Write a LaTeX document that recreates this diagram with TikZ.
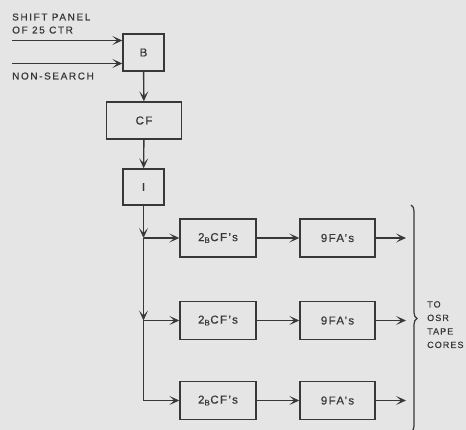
\documentclass[tikz,border=0pt]{standalone}
\usepackage{fontspec}
\setmainfont{Liberation Sans}[LetterSpace=12,FakeBold=0.6]
\newfontfamily\widefont{Liberation Sans}[LetterSpace=16,FakeBold=0.6]
\usetikzlibrary{arrows.meta,decorations.pathreplacing}
\definecolor{bg}{gray}{0.90}
\definecolor{ink}{gray}{0.22}
\begin{document}
\begin{tikzpicture}[x=1pt,y=-1pt,
  blk/.style={draw=ink,line width=1.4pt,minimum height=37pt,inner sep=0pt,text=ink,font=\fontsize{11.5}{13}\selectfont},
  wire/.style={draw=ink,line width=1.4pt},
  arr/.style={wire,-{Stealth[length=10pt,width=9pt,inset=5pt]}},
  lbl/.style={text=ink,font=\widefont\fontsize{10}{12}\selectfont,inner sep=0pt,anchor=base west}]
\fill[bg] (0,0) rectangle (466,430);
\useasboundingbox (0,0) rectangle (466,430);
\node[blk,minimum width=41pt] (B) at (143.5,52.5) {B};
\node[blk,minimum width=75pt] (CF) at (144,120.5) {CF};
\node[blk,minimum width=41pt,minimum height=36pt] (I) at (143.5,187) {I};
\foreach \r/\y in {1/238,2/320.5,3/400.5}{
  \node[blk,minimum width=76pt,minimum height=38pt] (A\r) at (218,\y) {2$_{\mathrm{B}}$CF's};
  \node[blk,minimum width=75pt,minimum height=38pt] (F\r) at (337.5,\y) {9FA's};
  \coordinate (j\r) at (143.5,\y);
  \coordinate (o\r) at (406,\y);
  \draw[arr] (j\r) -- (A\r);
  \draw[arr] (A\r) -- (F\r);
  \draw[arr] (F\r) -- (o\r);
}
\coordinate (in1) at (12,40.5);
\coordinate (in2) at (12,63.5);
\draw[arr] (in1) -- (in1 -| B.west);
\draw[arr] (in2) -- (in2 -| B.west);
\node[lbl] (t1) at (12,20.5) {SHIFT PANEL};
\node[lbl] (t2) at (12,33.5) {OF 25 CTR};
\node[lbl] (t3) at (12,79.5) {NON-SEARCH};
\draw[arr] (B) -- (CF);
\draw[arr] (CF) -- (I);
\draw[arr] (I) -- (j1);
\draw[arr] (j1) -- (j2);
\draw[wire] (j2) -- (j3);
\coordinate (bt) at (411,205);
\coordinate (bb) at (411,432);
\draw[wire,line width=1.2pt,decorate,decoration={brace,amplitude=6pt}] (bt) -- (bb);
\node[text=ink,font=\fontsize{9}{13.5}\selectfont,align=left,anchor=north west,inner sep=0pt] (dest) at (427,301) {TO\\OSR\\TAPE\\CORES};
\end{tikzpicture}
\end{document}
